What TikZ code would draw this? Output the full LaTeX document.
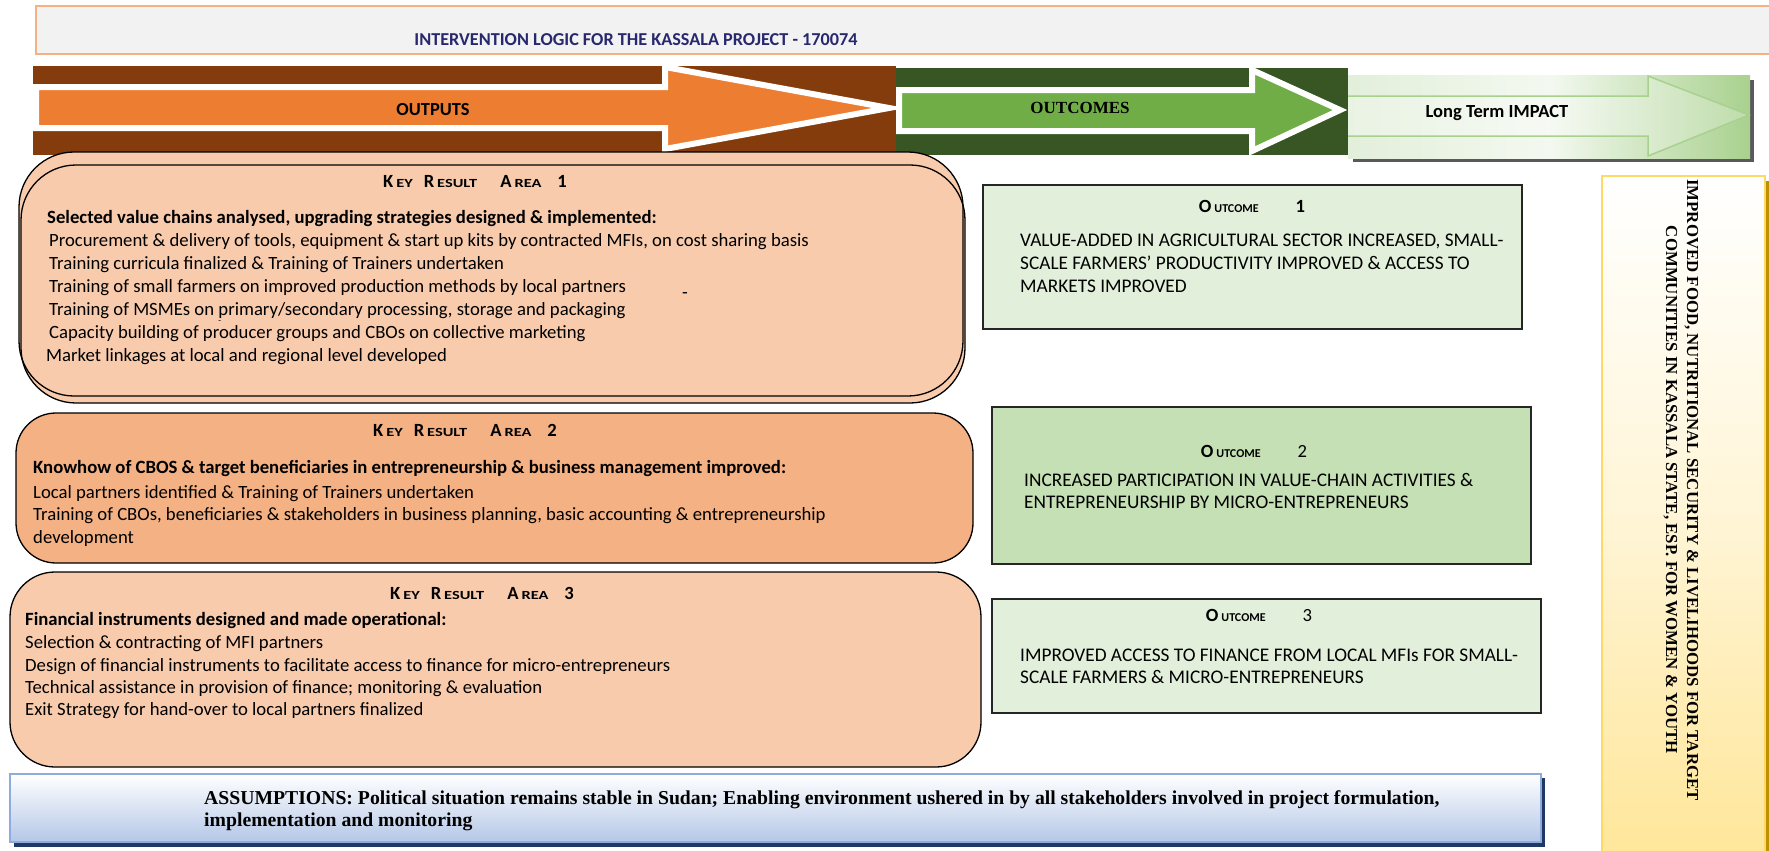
\documentclass[tikz,border=0pt]{standalone}
\usepackage{fontspec}
\setmainfont{Carlito}
\newfontfamily\serifb{Liberation Serif}
\usetikzlibrary{shadings}
\definecolor{brownband}{HTML}{843C0C}
\definecolor{orangearrow}{HTML}{ED7D31}
\definecolor{dkgreen}{HTML}{375623}
\definecolor{greenarrow}{HTML}{70AD47}
\definecolor{lgreen}{HTML}{E2EFDA}
\definecolor{mgreen}{HTML}{C5E0B4}
\definecolor{sgreen}{HTML}{A9D18E}
\definecolor{kralight}{HTML}{F8CBAD}
\definecolor{kradark}{HTML}{F4B183}
\definecolor{titlegray}{HTML}{F2F2F2}
\definecolor{titleline}{HTML}{F4B183}
\definecolor{navytext}{RGB}{40,40,110}
\definecolor{goldline}{HTML}{FFD966}
\definecolor{goldfill}{HTML}{FFE699}
\definecolor{goldshadow}{HTML}{BF9000}
\definecolor{blueline}{HTML}{8FAADC}
\definecolor{bluefill}{HTML}{B4C7E7}
\definecolor{navyshadow}{HTML}{1F3864}
\newcommand{\smallcapsgrp}[1]{\scalebox{1.32}[1]{\bfseries\fontsize{12.4}{12.4}\selectfont #1}}
\newcommand{\kratitle}[1]{\bfseries\fontsize{18.6}{18.6}\selectfont K\kern3pt\smallcapsgrp{EY}\kern11pt R\kern3pt\smallcapsgrp{ESULT}\kern23pt A\kern3pt\smallcapsgrp{REA}\kern16pt #1}
\newcommand{\outtitle}[2]{{\bfseries\fontsize{18.6}{18.6}\selectfont O\kern3pt{\fontsize{12}{12}\selectfont UTCOME}}\kern37pt{\fontsize{18.6}{18.6}\selectfont #2#1}}
\begin{document}
\begin{tikzpicture}[x=1pt,y=-1pt,
  kbody/.style={anchor=base west, inner sep=0pt, font=\fontsize{18.7}{20}\selectfont},
  kbold/.style={kbody, font=\bfseries\fontsize{18.7}{20}\selectfont},
  ktitle/.style={anchor=base, inner sep=0pt},
  obody/.style={anchor=base west, inner sep=0pt, font=\fontsize{19.3}{20}\selectfont},
  assum/.style={anchor=base west, inner sep=0pt, font=\serifb\bfseries\fontsize{19.7}{20}\selectfont},
  krabox/.style={draw=black, line width=1.3pt},
  outbox/.style={draw=black!85, line width=1.5pt},
  arrowshape/.style={draw=white, line width=6pt, line join=miter}]
\useasboundingbox (0,0) rectangle (1769,851);
\fill[white] (0,0) rectangle (1769,851);

% title bar
\draw[draw=titleline, fill=titlegray, line width=1.2pt] (36,6) rectangle (1772,54);
\node[inner sep=0pt, font=\bfseries\fontsize{18.2}{18.2}\selectfont, text=navytext] (title) at (636,40) {INTERVENTION LOGIC FOR THE KASSALA PROJECT - 170074};

% bands and arrows
\fill[brownband] (33,66) rectangle (896,155);
\fill[dkgreen] (896,68) rectangle (1348,155);
\draw[arrowshape, fill=orangearrow] (36,87) -- (665,87) -- (665,67) -- (889,108) -- (665,149) -- (665,128) -- (36,128) -- cycle;
\node[inner sep=0pt, font=\bfseries\fontsize{18.4}{18.4}\selectfont] (outputs) at (433,110) {OUTPUTS};
\draw[arrowshape, fill=greenarrow] (899,90) -- (1252,90) -- (1252,70) -- (1340,110) -- (1252,151) -- (1252,131) -- (899,131) -- cycle;
\node[inner sep=0pt, font=\serifb\bfseries\fontsize{17}{17}\selectfont] (outcomes) at (1080,108) {OUTCOMES};

% long term impact
\fill[black!65] (1353,80) rectangle (1754,162);
\shade[left color=lgreen, right color=sgreen, middle color=lgreen!40] (1348,75) rectangle (1750,158);
\draw[sgreen, line width=1.5pt, fill=white, fill opacity=0.25] (1348,96) -- (1648,96) -- (1648,76) -- (1749,115) -- (1648,156) -- (1648,136) -- (1348,136);
\node[anchor=base, inner sep=0pt, font=\bfseries\fontsize{18.5}{18.5}\selectfont] (impact) at (1497,117) {Long Term IMPACT};

% KRA 1 (double box)
\fill[kralight, rounded corners=55pt] (19,152) rectangle (963,396);
\fill[kralight, rounded corners=55pt] (21,165) rectangle (965,403);
\draw[krabox, rounded corners=55pt] (19,152) rectangle (963,396);
\draw[krabox, rounded corners=55pt] (21,165) rectangle (965,403);
\node[ktitle] (kra1t) at (475,187) {\kratitle{1}};
\node[kbold] (kra1h) at (47,223) {Selected value chains analysed, upgrading strategies designed \& implemented:};
\node[kbody] (kra1a) at (49,246) {Procurement \& delivery of tools, equipment \& start up kits by contracted MFIs, on cost sharing basis};
\node[kbody] (kra1b) at (49,269) {Training curricula finalized \& Training of Trainers undertaken};
\node[kbody] (kra1c) at (49,292) {Training of small farmers on improved production methods by local partners};
\node[kbody] (kra1d) at (49,315) {Training of MSMEs on \makebox[0pt][l]{\raisebox{-0.45em}{\fontsize{9}{9}\selectfont -}}primary/secondary processing, storage and packaging};
\node[kbody] (kra1e) at (49,338) {Capacity building of producer groups and CBOs on collective marketing};
\node[kbody] (kra1f) at (46,361) {Market linkages at local and regional level developed};
\node[kbody] (dash1) at (682,298) {-};

% KRA 2
\draw[krabox, fill=kradark, rounded corners=40pt] (16,413) rectangle (973,563);
\node[ktitle] (kra2t) at (465,436) {\kratitle{2}};
\node[kbold] (kra2h) at (33,473) {Knowhow of CBOS \& target beneficiaries in entrepreneurship \& business management improved:};
\node[kbody] (kra2a) at (33,498) {Local partners identified \& Training of Trainers undertaken};
\node[kbody] (kra2b) at (33,520) {Training of CBOs, beneficiaries \& stakeholders in business planning, basic accounting \& entrepreneurship};
\node[kbody] (kra2c) at (33,543) {development};

% KRA 3
\draw[krabox, fill=kralight, rounded corners=45pt] (10,572) rectangle (981,767);
\node[ktitle] (kra3t) at (482,599) {\kratitle{3}};
\node[kbold] (kra3h) at (25,625) {Financial instruments designed and made operational:};
\node[kbody] (kra3a) at (25,648) {Selection \& contracting of MFI partners};
\node[kbody] (kra3b) at (25,671) {Design of financial instruments to facilitate access to finance for micro-entrepreneurs};
\node[kbody] (kra3c) at (25,693) {Technical assistance in provision of finance; monitoring \& evaluation};
\node[kbody] (kra3d) at (25,715) {Exit Strategy for hand-over to local partners finalized};

% Outcomes
\draw[outbox, fill=lgreen] (983,185) rectangle (1522,329);
\node[ktitle] (o1t) at (1252,212) {\outtitle{1}{\bfseries}};
\node[obody] (o1a) at (1020,246) {VALUE-ADDED IN AGRICULTURAL SECTOR INCREASED, SMALL-};
\node[obody] (o1b) at (1020,269) {SCALE FARMERS’ PRODUCTIVITY IMPROVED \& ACCESS TO};
\node[obody] (o1c) at (1020,292) {MARKETS IMPROVED};

\draw[outbox, fill=mgreen] (992,407) rectangle (1531,564);
\node[ktitle] (o2t) at (1254,457) {\outtitle{2}{}};
\node[obody] (o2a) at (1024,486) { INCREASED PARTICIPATION IN VALUE-CHAIN ACTIVITIES \&};
\node[obody] (o2b) at (1024,508) {ENTREPRENEURSHIP BY MICRO-ENTREPRENEURS};

\draw[outbox, fill=lgreen] (992,599) rectangle (1541,713);
\node[ktitle] (o3t) at (1259,621) {\outtitle{3}{}};
\node[obody] (o3a) at (1020,661) {IMPROVED ACCESS TO FINANCE FROM LOCAL MFIs FOR SMALL-};
\node[obody] (o3b) at (1020,683) {SCALE FARMERS \& MICRO-ENTREPRENEURS};

% Impact column
\fill[goldshadow] (1607,181) rectangle (1772,860);
\shade[top color=white, bottom color=goldfill, middle color=goldfill!40] (1602,176) rectangle (1765,860);
\draw[goldline, line width=2pt] (1602,860) -- (1602,176) -- (1765,176) -- (1765,860);
\node[rotate=-90, align=center, inner sep=0pt, font=\serifb\bfseries\fontsize{16.8}{21}\selectfont] (goal) at (1681,490) {IMPROVED FOOD, NUTRITIONAL SECURITY \& LIVELIHOODS FOR TARGET\\COMMUNITIES IN KASSALA STATE, ESP. FOR WOMEN \& YOUTH};

% Assumptions
\fill[navyshadow] (14,778) rectangle (1545,847);
\shade[top color=white, bottom color=bluefill] (10,774) rectangle (1541,842);
\draw[blueline, line width=1.5pt] (10,774) rectangle (1541,842);
\node[assum] (ass1) at (204,804) {ASSUMPTIONS: Political situation remains stable in Sudan; Enabling environment ushered in by all stakeholders involved in project formulation,};
\node[assum] (ass2) at (204,826) {implementation and monitoring};
\end{tikzpicture}
\end{document}
